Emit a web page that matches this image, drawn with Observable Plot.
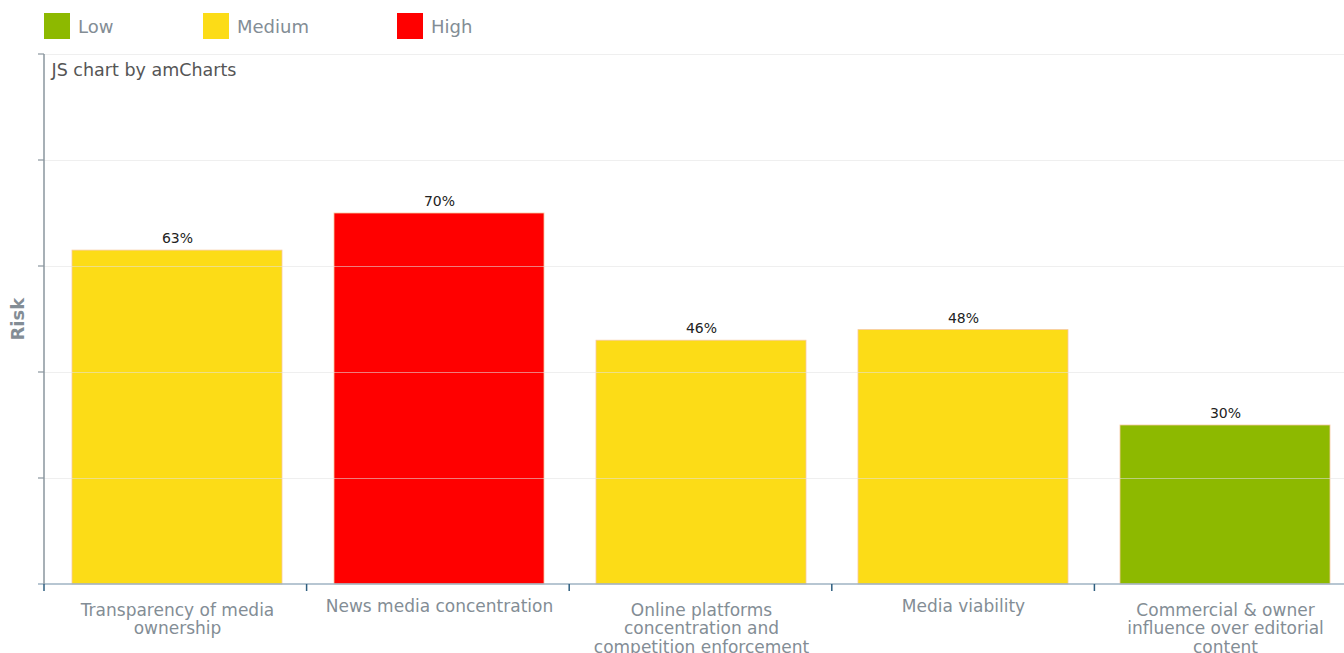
<!DOCTYPE html>
<html>
<head>
<meta charset="utf-8">
<script src="https://cdn.jsdelivr.net/npm/d3@7"></script>
<script src="https://cdn.jsdelivr.net/npm/@observablehq/plot@0.6"></script>
<style>
  html, body { margin: 0; padding: 0; background: #fff; overflow: hidden; width: 1344px; height: 653px; }
  body { font-family: "DejaVu Sans", Verdana, sans-serif; }
  #legend { position: relative; height: 50px; }
  .item { position: absolute; top: 13px; display: flex; align-items: center; height: 26px; }
  .sw { width: 26px; height: 26px; margin-right: 8px; box-sizing: border-box; }
  .lab { font-size: 18px; color: #838d95; }
  #chart svg { display: block; overflow: visible; max-width: none !important; }
</style>
</head>
<body>
<div id="legend"></div>
<div id="chart"></div>
<script>
const categories = [
  "Transparency of media\nownership",
  "News media concentration",
  "Online platforms\nconcentration and\ncompetition enforcement",
  "Media viability",
  "Commercial & owner\ninfluence over editorial\ncontent"
];
const values = [63, 70, 46, 48, 30];
const levels = ["Medium", "High", "Medium", "Medium", "Low"];
const legendLevels = ["Low", "Medium", "High"];
const levelColors = ["#8db900", "#fcdc17", "#ff0000"];
const yTicks = [0, 20, 40, 60, 80, 100];

const data = categories.map((c, i) => ({cat: c, value: values[i], level: levels[i], label: values[i] + "%"}));

// legend
const legendX = [44, 203, 397];
const leg = document.getElementById("legend");
legendLevels.forEach((l, i) => {
  const d = document.createElement("div");
  d.className = "item";
  d.style.left = legendX[i] + "px";
  d.innerHTML = `<div class="sw" style="background:${levelColors[i]}"></div><span class="lab">${l}</span>`;
  leg.appendChild(d);
});

const singleLine = data.filter(d => !d.cat.includes("\n"));
const multiLine = data.filter(d => d.cat.includes("\n"));

const chart = Plot.plot({
  width: 1357,
  height: 603,
  marginLeft: 44,
  marginRight: 0,
  marginTop: 4,
  marginBottom: 69,
  style: {fontFamily: "DejaVu Sans, Verdana, sans-serif", background: "transparent", maxWidth: "none", overflow: "visible"},
  x: {domain: categories, paddingInner: 0.2, paddingOuter: 0.1, axis: null},
  y: {domain: [0, 100], axis: null},
  color: {domain: legendLevels, range: levelColors},
  marks: [
    Plot.barY(data, {x: "cat", y: "value", fill: "level", stroke: "#f7c9a0", strokeWidth: 0.8}),
    Plot.ruleY(yTicks.slice(1), {stroke: "#e2e2e2", strokeOpacity: 0.55, strokeWidth: 1}),
    Plot.text(data, {x: "cat", y: "value", text: "label", dy: -12, fontSize: 14, fill: "#222"}),
    // category labels
    Plot.text(multiLine, {x: "cat", text: "cat", frameAnchor: "bottom", lineAnchor: "top", dy: 18, fontSize: 17, lineHeight: 1.1, fill: "#838d95"}),
    Plot.text(singleLine, {x: "cat", text: "cat", frameAnchor: "bottom", lineAnchor: "top", dy: 15, fontSize: 17, fill: "#838d95"}),
    // watermark text
    Plot.text(["JS chart by amCharts"], {frameAnchor: "top-left", textAnchor: "start", lineAnchor: "top", dx: 7, dy: 9, fontSize: 17.5, fill: "#555"}),
    // y label
    Plot.text(["Risk"], {frameAnchor: "left", rotate: -90, dx: -26, dy: 21, fontSize: 18, fontWeight: "bold", fill: "#838d95"})
  ]
});
document.getElementById("chart").appendChild(chart);

// axis lines and ticks, positioned through the plot's scales
const svg = d3.select(chart);
const xs = chart.scale("x");
const ys = chart.scale("y");
const g = svg.append("g");
const x0 = xs.range[0], x1 = xs.range[1];
// x axis line
g.append("line").attr("x1", x0 - 6).attr("x2", x1).attr("y1", ys.apply(0)).attr("y2", ys.apply(0))
  .attr("stroke", "#9fb3c3").attr("stroke-width", 1.5);
// y axis line
g.append("line").attr("x1", x0).attr("x2", x0).attr("y1", ys.apply(0)).attr("y2", ys.apply(100))
  .attr("stroke", "#8a969e").attr("stroke-width", 1.5);
yTicks.slice(1).forEach(t => {
  g.append("line").attr("x1", x0 - 6).attr("x2", x0).attr("y1", ys.apply(t)).attr("y2", ys.apply(t))
    .attr("stroke", "#8a969e").attr("stroke-width", 1.2);
});
const full = (x1 - x0) / categories.length;
for (let i = 0; i < categories.length; i++) {
  const x = x0 + i * full;
  g.append("line").attr("x1", x).attr("x2", x).attr("y1", ys.apply(0)).attr("y2", ys.apply(0) + 7)
    .attr("stroke", "#2f5f80").attr("stroke-width", 1.5);
}
</script>
</body>
</html>
